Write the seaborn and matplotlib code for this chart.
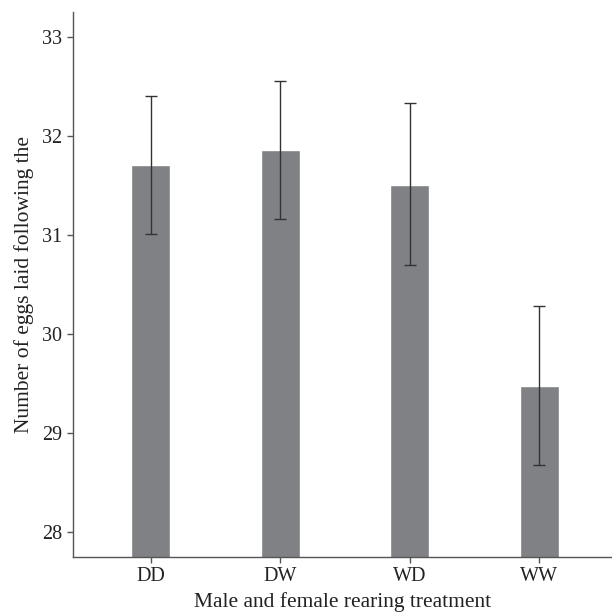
import numpy as np
import pandas as pd
import seaborn as sns
import matplotlib.pyplot as plt

# values
treatments = ["DD", "DW", "WD", "WW"]
mean_eggs = [31.71, 31.86, 31.51, 29.48]
lower_ci = [31.01, 31.16, 30.70, 28.68]
upper_ci = [32.40, 32.56, 32.33, 30.28]

df = pd.DataFrame({"treatment": treatments, "eggs": mean_eggs})

sns.set_theme(style="white")
plt.rcParams['font.family'] = ['Liberation Serif', 'DejaVu Serif']

fig = plt.figure(figsize=(6.12, 6.14), dpi=100)
ax = fig.add_axes([0.119, 0.093, 0.881, 0.887])

sns.barplot(data=df, x="treatment", y="eggs", color="#808185",
            saturation=1, width=0.3, ax=ax)

#Error bars from the interval bounds
x_pos = np.arange(len(treatments))
yerr = [np.array(mean_eggs) - np.array(lower_ci), np.array(upper_ci) - np.array(mean_eggs)]
ax.errorbar(x_pos, mean_eggs, yerr=yerr, fmt="none", ecolor="#333333",
            elinewidth=1, capsize=4.5, capthick=1)

ax.set_xlim(-0.6, 3.56)
ax.set_ylim(27.75, 33.25)
ax.set_yticks([28, 29, 30, 31, 32, 33])

ax.set_xlabel("Male and female rearing treatment", fontsize=15.5, color="#222222", labelpad=4)
ax.set_ylabel("Number of eggs laid following the", fontsize=15.5, color="#222222", labelpad=6)

ax.tick_params(axis="both", labelsize=14.5, colors="#222222", length=4, width=1,
               color="#555555", left=True, bottom=True)

for side in ["top", "right"]:
    ax.spines[side].set_visible(False)
for side in ["left", "bottom"]:
    ax.spines[side].set_color("#555555")
    ax.spines[side].set_linewidth(1)

fig.savefig("out.png", dpi=100)
